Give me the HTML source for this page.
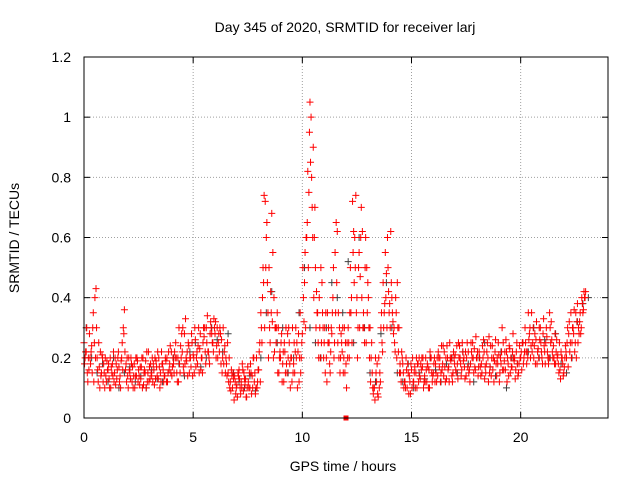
<!DOCTYPE html>
<html><head><meta charset="utf-8"><style>
html,body{margin:0;padding:0;background:#fff;}
svg{display:block;font-family:"Liberation Sans",sans-serif;}
</style></head><body>
<svg id="chart" width="640" height="480" xmlns="http://www.w3.org/2000/svg">
<text x="345" y="32" font-size="14" text-anchor="middle">Day 345 of 2020, SRMTID for receiver larj</text>
<text x="343" y="471" font-size="14" text-anchor="middle">GPS time / hours</text>
<text transform="translate(19,238) rotate(-90)" font-size="14" text-anchor="middle">SRMTID / TECUs</text>
<g id="grid"></g><g id="ticks"></g><g id="marks"></g>
<rect x="84" y="57" width="524" height="361" fill="none" stroke="#000" stroke-width="1"/>
</svg>
<script>
const xTicks=[0,5,10,15,20];
const yTicks=[0,0.2,0.4,0.6,0.8,1,1.2];
const yTickLabels=["0","0.2","0.4","0.6","0.8","1","1.2"];
const stepA=0.1;
const seriesA=[0.25,0.22,0.2,0.18,0.3,0.4,
0.2,0.17,0.15,0.18,0.14,0.16,0.2,0.18,0.15,0.13,0.17,0.19,0.3,0.16,0.14,
0.15,0.12,0.18,0.14,0.16,0.13,0.2,0.15,0.12,0.17,0.14,0.16,0.19,0.13,0.15,0.18,0.14,0.2,0.16,0.22,
0.18,0.25,0.2,0.15,0.22,0.28,0.19,0.24,0.17,0.21,0.26,0.18,0.23,0.2,0.27,0.3,0.22,0.32,0.25,0.28,
0.3,0.22,0.26,0.18,0.2,0.15,0.12,0.1,0.14,0.11,0.16,0.12,0.09,0.13,0.17,0.1,0.14,0.12,0.2,0.16,
0.35,0.5,0.72,0.45,0.3,0.68,0.4,0.25,0.3,0.2,0.18,0.22,0.15,0.25,0.2,0.18,0.3,0.22,0.35,0.28,
0.45,0.6,0.75,1.0,0.9,0.5,0.35,0.3,0.45,0.25,0.2,0.3,0.22,0.4,0.55,0.62,0.3,0.25,0.2,0.18,
0.3,0.5,0.72,0.6,0.4,0.55,0.7,0.35,0.6,0.45,0.3,0.15,0.1,0.12,0.2,0.3,0.45,0.55,0.6,0.38,
0.4,0.3,0.35,0.22,0.15,0.18,0.12,0.1,0.14,0.16,0.12,0.15,0.18,0.13,0.17,0.14,0.12,0.16,0.2,0.15,
0.18,0.14,0.2,0.16,0.22,0.13,0.17,0.19,0.15,0.21,0.18,0.24,0.16,0.2,0.14,0.22,0.18,0.25,0.17,0.2,
0.22,0.18,0.26,0.15,0.2,0.17,0.24,0.19,0.14,0.21,0.18,0.25,0.16,0.2,0.23,0.17,0.19,0.22,0.15,0.2,
0.25,0.3,0.22,0.28,0.35,0.2,0.26,0.23,0.3,0.18,0.22,0.27,0.2,0.32,0.24,0.18,0.21,0.16,0.2,0.17,
0.2,0.28,0.35,0.3,0.25,0.38,0.32,0.4,0.42];
const seriesB=[0.2,0.15,0.28,0.24,0.12,0.43,
0.12,0.22,0.2,0.1,0.19,0.13,0.17,0.22,0.11,0.2,0.14,0.25,0.36,0.12,0.2,
0.2,0.1,0.14,0.19,0.11,0.2,0.15,0.1,0.22,0.18,0.12,0.2,0.14,0.17,0.22,0.12,0.19,0.15,0.24,0.17,
0.22,0.15,0.3,0.2,0.17,0.33,0.14,0.2,0.25,0.15,0.2,0.3,0.16,0.25,0.22,0.34,0.18,0.28,0.33,0.2,
0.25,0.28,0.2,0.24,0.14,0.2,0.16,0.13,0.08,0.15,0.1,0.18,0.13,0.07,0.1,0.15,0.2,0.08,0.12,0.25,
0.25,0.74,0.6,0.2,0.42,0.55,0.3,0.35,0.2,0.28,0.12,0.3,0.2,0.1,0.3,0.15,0.25,0.12,0.2,0.4,
0.3,0.82,1.05,0.7,0.6,0.42,0.2,0.5,0.3,0.15,0.35,0.18,0.28,0.2,0.65,0.35,0.2,0.3,0.15,0.25,
0.2,0.4,0.62,0.74,0.3,0.47,0.62,0.25,0.5,0.3,0.2,0.08,0.2,0.08,0.15,0.25,0.35,0.48,0.42,0.62,
0.32,0.22,0.45,0.15,0.22,0.1,0.2,0.15,0.08,0.2,0.17,0.1,0.2,0.16,0.1,0.2,0.17,0.22,0.12,0.2,
0.12,0.2,0.15,0.24,0.12,0.2,0.25,0.14,0.2,0.15,0.25,0.18,0.22,0.13,0.25,0.16,0.22,0.15,0.27,0.14,
0.17,0.24,0.13,0.22,0.27,0.14,0.2,0.26,0.18,0.15,0.3,0.19,0.22,0.14,0.2,0.28,0.13,0.18,0.24,0.16,
0.2,0.22,0.35,0.2,0.25,0.28,0.18,0.3,0.22,0.33,0.25,0.2,0.3,0.22,0.18,0.26,0.15,0.22,0.14,0.24,
0.3,0.22,0.25,0.36,0.2,0.3,0.28,0.35,0.4];
const seriesD=[0.18,0.3,0.16,0.22,0.35,0.2,
0.16,0.1,0.21,0.15,0.12,0.18,0.1,0.14,0.2,0.16,0.12,0.2,0.28,0.18,0.1,
0.13,0.17,0.1,0.2,0.14,0.17,0.11,0.19,0.15,0.13,0.2,0.11,0.17,0.2,0.12,0.16,0.2,0.12,0.18,0.14,
0.15,0.2,0.12,0.24,0.3,0.18,0.22,0.15,0.28,0.2,0.17,0.24,0.28,0.15,0.3,0.25,0.2,0.3,0.22,0.32,
0.2,0.3,0.15,0.22,0.18,0.12,0.09,0.15,0.12,0.07,0.13,0.1,0.15,0.07,0.12,0.18,0.1,0.15,0.1,0.22,
0.3,0.45,0.5,0.35,0.25,0.32,0.22,0.3,0.15,0.25,0.22,0.15,0.28,0.18,0.12,0.25,0.2,0.28,0.15,0.5,
0.55,0.65,0.95,0.8,0.4,0.3,0.25,0.2,0.35,0.3,0.12,0.25,0.3,0.5,0.35,0.25,0.15,0.22,0.3,0.1,
0.25,0.35,0.55,0.5,0.2,0.3,0.4,0.3,0.25,0.4,0.12,0.1,0.06,0.18,0.1,0.35,0.3,0.4,0.5,0.3,
0.35,0.25,0.2,0.3,0.12,0.15,0.1,0.18,0.12,0.1,0.15,0.2,0.12,0.18,0.2,0.12,0.18,0.1,0.15,0.18,
0.15,0.22,0.12,0.18,0.17,0.24,0.12,0.2,0.22,0.16,0.13,0.2,0.25,0.17,0.2,0.15,0.25,0.2,0.16,0.22,
0.2,0.15,0.22,0.18,0.12,0.24,0.16,0.22,0.2,0.12,0.22,0.16,0.26,0.18,0.15,0.22,0.2,0.25,0.18,0.22,
0.18,0.25,0.2,0.3,0.22,0.24,0.32,0.2,0.25,0.28,0.18,0.22,0.35,0.26,0.2,0.22,0.18,0.13,0.18,0.2,
0.25,0.32,0.2,0.28,0.35,0.25,0.35,0.38,0.4];
const seriesE=[0.22,0.12,0.2,0.15,0.25,0.3,
0.25,0.14,0.12,0.2,0.16,0.1,0.15,0.12,0.18,0.22,0.1,0.16,0.22,0.2,0.16,
0.18,0.14,0.2,0.12,0.17,0.1,0.16,0.22,0.12,0.15,0.18,0.13,0.22,0.1,0.18,0.14,0.12,0.22,0.15,0.2,
0.2,0.12,0.18,0.28,0.15,0.2,0.25,0.2,0.14,0.3,0.22,0.15,0.2,0.3,0.18,0.22,0.28,0.25,0.3,0.24,
0.28,0.18,0.3,0.15,0.25,0.1,0.14,0.06,0.1,0.14,0.08,0.16,0.11,0.1,0.15,0.08,0.2,0.1,0.16,0.12,
0.4,0.3,0.65,0.5,0.35,0.2,0.3,0.15,0.22,0.12,0.25,0.18,0.3,0.2,0.15,0.22,0.1,0.2,0.25,0.32,
0.6,0.5,0.85,0.6,0.7,0.35,0.4,0.25,0.2,0.35,0.25,0.15,0.35,0.25,0.45,0.2,0.28,0.15,0.25,0.2,
0.35,0.25,0.45,0.35,0.5,0.6,0.3,0.5,0.35,0.2,0.25,0.1,0.15,0.07,0.12,0.22,0.38,0.3,0.35,0.45,
0.28,0.4,0.3,0.18,0.2,0.12,0.16,0.08,0.18,0.12,0.1,0.18,0.14,0.2,0.12,0.16,0.1,0.2,0.14,0.12,
0.2,0.17,0.24,0.14,0.2,0.16,0.2,0.12,0.18,0.24,0.2,0.14,0.19,0.22,0.17,0.12,0.2,0.23,0.2,0.17,
0.14,0.2,0.17,0.25,0.15,0.2,0.12,0.18,0.25,0.2,0.16,0.22,0.12,0.24,0.17,0.2,0.16,0.14,0.2,0.25,
0.22,0.18,0.26,0.24,0.3,0.18,0.22,0.26,0.2,0.24,0.3,0.18,0.25,0.2,0.28,0.2,0.25,0.2,0.15,0.22,
0.17,0.25,0.3,0.22,0.32,0.28,0.3,0.36,0.42];
const stepC=0.25;
const seriesC=[0.3,0.2,0.15,0.18,0.12,0.2,0.1,0.15,0.17,0.12,0.14,0.1,0.16,0.13,0.12,0.15,0.2,0.18,0.14,0.22,0.25,0.17,0.2,0.3,0.26,0.22,0.28,0.15,0.12,0.1,0.14,0.09,0.2,0.35,0.42,0.25,0.3,0.15,0.2,0.35,0.5,0.3,0.25,0.2,0.3,0.45,0.4,0.35,0.52,0.25,0.6,0.3,0.15,0.12,0.28,0.45,0.3,0.15,0.12,0.18,0.1,0.15,0.13,0.2,0.16,0.12,0.18,0.2,0.15,0.22,0.18,0.12,0.2,0.25,0.17,0.14,0.22,0.1,0.2,0.18,0.25,0.22,0.3,0.2,0.26,0.2,0.28,0.18,0.15,0.2,0.32,0.38,0.4];
const gapMarker=[12,0];

const NS="http://www.w3.org/2000/svg";
const X=v=>84+v*(524/24);
const Y=v=>418-v*(361/1.2);
function mk(tag,attrs,parent){const e=document.createElementNS(NS,tag);for(const k in attrs)e.setAttribute(k,attrs[k]);parent.appendChild(e);return e;}
const grid=document.getElementById('grid'),ticks=document.getElementById('ticks'),marks=document.getElementById('marks');
xTicks.forEach(t=>{
  if(t>0){const g=mk('line',{x1:X(t),x2:X(t),y1:57,y2:418,stroke:'#a0a0a0','stroke-dasharray':'1,2'},grid);
  
  }
  mk('line',{x1:X(t),x2:X(t),y1:418,y2:412,stroke:'#000'},ticks);
  mk('line',{x1:X(t),x2:X(t),y1:57,y2:63,stroke:'#000'},ticks);
  const l=mk('text',{x:X(t),y:442,'font-size':14,'text-anchor':'middle'},ticks);l.textContent=t;
  
  
});
yTicks.forEach((t,i)=>{
  if(t>0&&t<1.2){const g=mk('line',{x1:84,x2:608,y1:Y(t),y2:Y(t),stroke:'#a0a0a0','stroke-dasharray':'1,2'},grid);
  
  }
  mk('line',{x1:84,x2:90,y1:Y(t),y2:Y(t),stroke:'#000'},ticks);
  mk('line',{x1:602,x2:608,y1:Y(t),y2:Y(t),stroke:'#000'},ticks);
  const l=mk('text',{x:71,y:Y(t)+5,'font-size':14,'text-anchor':'end'},ticks);l.textContent=yTickLabels[i];
  
  
});
function plus(x,y,c,name){
  const p=mk('path',{d:`M${x-3.5},${y}h7M${x},${y-3.5}v7`,stroke:c,'stroke-width':1,fill:'none'},marks);
  
  
}
seriesC.forEach((v,i)=>plus(X(i*stepC+0.1),Y(v),'#404040','point-black'));
seriesA.forEach((v,i)=>plus(X(i*stepA),Y(v),'#ff0000','point-red'));
seriesB.forEach((v,i)=>plus(X(i*stepA+0.05),Y(v),'#ff0000','point-red'));
seriesD.forEach((v,i)=>plus(X(i*stepA+0.025),Y(v),'#ff0000','point-red'));
seriesE.forEach((v,i)=>plus(X(i*stepA+0.075),Y(v),'#ff0000','point-red'));
const sq=mk('rect',{x:X(gapMarker[0])-2.5,y:Y(gapMarker[1])-2.5,width:5,height:5,fill:'#ff0000'},marks);


</script>
</body></html>
